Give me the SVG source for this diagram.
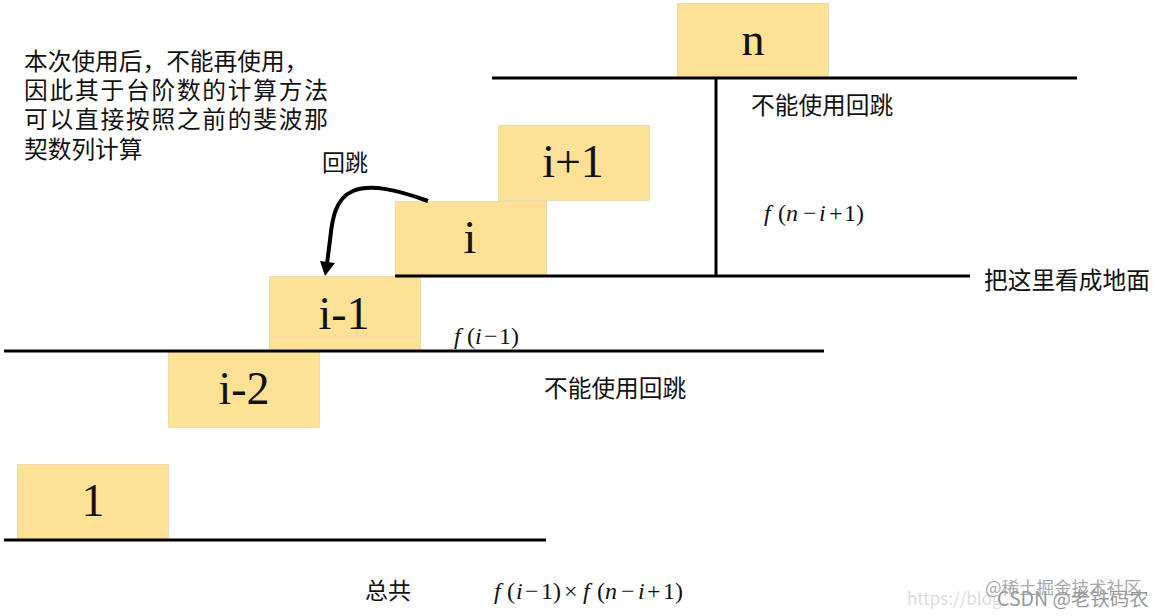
<svg xmlns="http://www.w3.org/2000/svg" width="1164" height="616" viewBox="0 0 1164 616">
<style>
.box{fill:#fde295;stroke:#eedcb0;stroke-width:1}
.step{font-family:"Liberation Serif","Times New Roman",serif;font-size:46px;fill:#111;text-anchor:middle}
.cn{font-family:"Noto Sans CJK SC",sans-serif;font-size:23.7px;fill:#111}
.cs{font-size:23px}
.m{font-family:"Liberation Serif",serif;font-size:24px;fill:#111}
.mi{font-style:italic}
.line{stroke:#000;stroke-width:3;fill:none}
.wm{font-family:"Noto Sans CJK SC",sans-serif}
</style>
<rect width="1164" height="616" fill="#fff"/>
<g id="step-n"><rect class="box" x="677.500" y="3.500" width="151" height="74"/><text class="step" x="753" y="55">n</text></g>
<g id="step-i1"><rect class="box" x="498.500" y="125.500" width="151" height="75"/><text class="step" x="573" y="177">i+1</text></g>
<g id="step-i"><rect class="box" x="395.500" y="201.500" width="151" height="74"/><text class="step" x="470" y="253">i</text></g>
<g id="step-im1"><rect class="box" x="269.500" y="276.500" width="151" height="74"/><text class="step" x="344" y="329">i-1</text></g>
<g id="step-im2"><rect class="box" x="168.500" y="352.500" width="151" height="75"/><text class="step" x="244" y="404">i-2</text></g>
<g id="step-1"><rect class="box" x="17.500" y="464.500" width="151" height="75"/><text class="step" x="93" y="516">1</text></g>
<g id="connectors">
<path class="line" d="M492 78H1077"/>
<path class="line" d="M716 78V276"/>
<path class="line" d="M395 276H970"/>
<path class="line" d="M4 351H824"/>
<path class="line" d="M4 540H546"/>
<path d="M428 201C395 189 370 184 353 191C334 199 332 222 330 240L327 264" fill="none" stroke="#000" stroke-width="4"/>
<path d="M320 261L335 263L325 276Z" fill="#000"/>
</g>
<g id="labels">
<text class="cn" x="24" y="70">本次使用后，不能再使用，</text>
<text class="cn" x="24" y="99" textLength="304">因此其于台阶数的计算方法</text>
<text class="cn" x="24" y="128" textLength="304">可以直接按照之前的斐波那</text>
<text class="cn" x="24" y="158">契数列计算</text>
<text class="cn cs" x="322" y="171">回跳</text>
<text class="cn" x="751" y="114">不能使用回跳</text>
<text class="cn" x="984" y="289">把这里看成地面</text>
<text class="cn" x="544" y="397">不能使用回跳</text>
<text class="cn cs" x="365" y="599">总共</text>
<text class="m" y="221"><tspan class="mi" x="764">f</tspan><tspan x="778">(</tspan><tspan class="mi" x="786">n</tspan><tspan x="803">−</tspan><tspan class="mi" x="819">i</tspan><tspan x="829">+</tspan><tspan x="844">1)</tspan></text>
<text class="m" y="344"><tspan class="mi" x="454">f</tspan><tspan x="467">(</tspan><tspan class="mi" x="475">i</tspan><tspan x="484">−</tspan><tspan x="499">1)</tspan></text>
<text class="m" y="599"><tspan class="mi" x="494">f</tspan><tspan x="507">(</tspan><tspan class="mi" x="516">i</tspan><tspan x="525">−</tspan><tspan x="541">1)</tspan><tspan x="564">×</tspan><tspan class="mi" x="583">f</tspan><tspan x="597">(</tspan><tspan class="mi" x="605">n</tspan><tspan x="621">−</tspan><tspan class="mi" x="638">i</tspan><tspan x="647">+</tspan><tspan x="663">1)</tspan></text>
</g>
<g id="watermark">
<text class="wm" x="907" y="605" font-size="17" fill="#ddd">https://blog.</text>
<text class="wm" x="985" y="594" font-size="17.500" fill="#a8a8a8">@稀土掘金技术社区</text>
<text class="wm" x="997" y="606" font-size="19.500" fill="#999">CSDN @老铁码农</text>
</g>
</svg>
